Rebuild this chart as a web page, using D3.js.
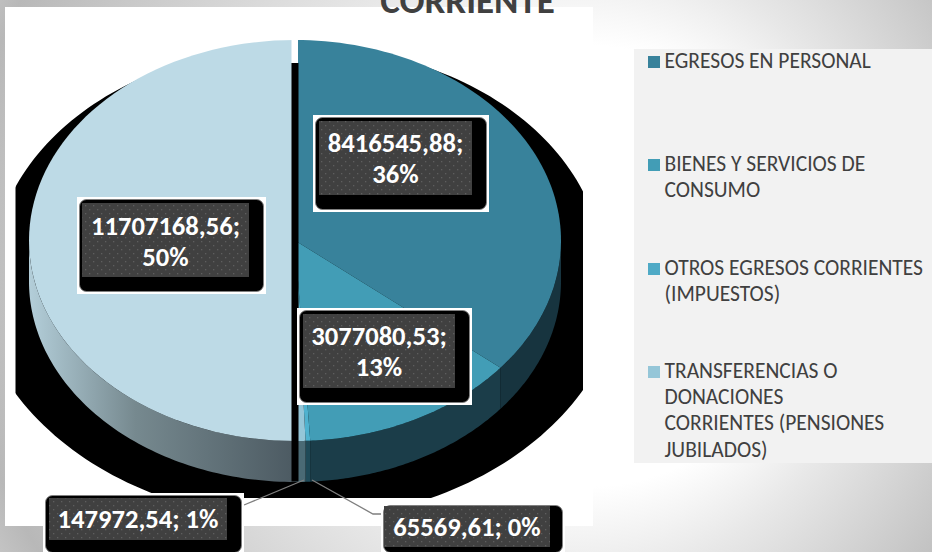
<!DOCTYPE html>
<html><head><meta charset="utf-8">
<script src="https://cdn.jsdelivr.net/npm/d3@7/dist/d3.min.js"></script>
<style>html,body{margin:0;padding:0;background:#fff;overflow:hidden}svg{display:block}</style>
</head><body><svg id="c" width="932" height="552"></svg>
<script>
const values = [8416545.88, 3077080.53, 65569.61, 147972.54, 11707168.56];
const valueLabels = [["8416545,88;","36%"],["3077080,53;","13%"],["65569,61; 0%"],["147972,54; 1%"],["11707168,56;","50%"]];
const sliceColors = ["#38829b","#429db6","#4fb2cf","#95c6d8","#bddae6"];
const sideColors = ["#17343f","#1b3d49","#1f4a58","#4a6a75","#4c5a62"];
const legendLabels = [["EGRESOS EN PERSONAL"],["BIENES Y SERVICIOS DE","CONSUMO"],["OTROS EGRESOS CORRIENTES","(IMPUESTOS)"],["TRANSFERENCIAS O","DONACIONES","CORRIENTES (PENSIONES","JUBILADOS)"]];
const legendColors = ["#38829b","#429db6","#4faac6","#95c6d8"];
const titleText = "CORRIENTE";

const svg = d3.select("#c");
const defs = svg.append("defs");
const font = "Carlito, 'Open Sans', 'Noto Sans', sans-serif";
const bg = defs.append("radialGradient").attr("id","bg").attr("gradientUnits","userSpaceOnUse")
  .attr("cx",500).attr("cy",260).attr("r",580).attr("fx",640).attr("fy",270);
[[0,"#ffffff"],[0.38,"#ffffff"],[0.55,"#e8e8e8"],[0.82,"#c8c8c8"],[0.95,"#b8b8b8"],[1,"#c4c4c4"]]
  .forEach(s=>bg.append("stop").attr("offset",s[0]).attr("stop-color",s[1]));
svg.append("rect").attr("width",932).attr("height",552).attr("fill","url(#bg)");
svg.append("rect").attr("x",5).attr("y",7).attr("width",588).attr("height",519).attr("fill","#fff");
svg.append("rect").attr("x",634).attr("y",49).attr("width",298).attr("height",414).attr("fill","#f2f2f2");
svg.append("text").attr("x",467.5).attr("y",12.5).attr("text-anchor","middle").attr("font-family",font)
  .attr("font-weight",700).attr("font-size",37).attr("fill","#404040").text(titleText);

const ls = defs.append("linearGradient").attr("id","leftSide").attr("gradientUnits","userSpaceOnUse").attr("x1",29).attr("x2",295).attr("y1",0).attr("y2",0);
[[0,"#b3ced9"],[0.4,"#76898f"],[1,"#4c5a62"]].forEach(s=>ls.append("stop").attr("offset",s[0]).attr("stop-color",s[1]));
const dots = defs.append("pattern").attr("id","dots").attr("width",8).attr("height",8).attr("patternUnits","userSpaceOnUse");
dots.append("rect").attr("width",8).attr("height",8).attr("fill","#404040");
dots.append("rect").attr("x",1).attr("y",1).attr("width",1.3).attr("height",1.3).attr("fill","#5e5e5e");
dots.append("rect").attr("x",5).attr("y",5).attr("width",1.3).attr("height",1.3).attr("fill","#5e5e5e");

const cx = 295, cy = 240.5, rx = 266, ry = 200.5, depth = 41;
const pie = d3.pie().sort(null).value(d=>d)(values);
const px = a => cx + rx*Math.sin(a), py = a => cy - ry*Math.cos(a);
const steps = d3.range(0,81).map(i=>i/80);
function topPath(s){
  const g = d3.path(); g.moveTo(cx,cy);
  steps.forEach(t=>{const a=s.startAngle+(s.endAngle-s.startAngle)*t; g.lineTo(px(a),py(a));});
  g.closePath(); return g.toString();
}
function sidePath(a0,a1){
  a0=Math.max(a0,Math.PI/2); a1=Math.min(a1,Math.PI*1.5); if(a1<=a0) return "";
  const g=d3.path();
  steps.forEach((t,i)=>{const a=a0+(a1-a0)*t; i?g.lineTo(px(a),py(a)):g.moveTo(px(a),py(a));});
  steps.slice().reverse().forEach(t=>{const a=a0+(a1-a0)*t; g.lineTo(px(a),py(a)+depth);});
  g.closePath(); return g.toString();
}
// black shadow behind the pie: two half ellipses clipped by a box
defs.append("clipPath").attr("id","shClip").append("rect").attr("x",15.5).attr("y",30).attr("width",567.5).attr("height",468);
const shPath=(()=>{const scx=298,g=d3.path();
  const n=120, topR=[305,226,272], botR=[327,255,265];
  d3.range(0,n+1).forEach(i=>{const a=-Math.PI/2+Math.PI*i/n; const x=scx+topR[0]*Math.sin(a), y=topR[2]-topR[1]*Math.cos(a); i?g.lineTo(x,y):g.moveTo(x,y);});
  d3.range(0,n+1).forEach(i=>{const a=Math.PI/2+Math.PI*i/n; const x=scx+botR[0]*Math.sin(a), y=botR[2]-botR[1]*Math.cos(a); g.lineTo(x,y);});
  g.closePath(); return g.toString();})();
svg.append("path").attr("d",shPath).attr("fill","#000").attr("clip-path","url(#shClip)");

// sides
pie.forEach((s,i)=>{
  const d=sidePath(s.startAngle,s.endAngle);
  if(d) svg.append("path").attr("d",d).attr("fill",i===4?"url(#leftSide)":sideColors[i]);
});
// tops
pie.forEach((s,i)=>svg.append("path").attr("d",topPath(s)).attr("fill",sliceColors[i]));
// gap between the two halves
svg.append("rect").attr("x",291.5).attr("y",63).attr("width",7).attr("height",418.5).attr("fill","#000");
svg.append("rect").attr("x",291.5).attr("y",38).attr("width",6.5).attr("height",25).attr("fill","#fff");

// leader lines
const line=svg.append("g").attr("fill","none").attr("stroke","#7f7f7f").attr("stroke-width",1.3);
line.append("polyline").attr("points","304,480 244,505");
line.append("polyline").attr("points","312,480 373,514 381,514");

function label(x,y,w,h,inX,inY,inW,inH,lines,baselines,size){
  const g=svg.append("g");
  g.append("rect").attr("x",x).attr("y",y).attr("width",w).attr("height",h).attr("fill","#fff");
  g.append("rect").attr("x",x+2.5).attr("y",y+2.5).attr("width",w-5).attr("height",h-5).attr("rx",7).attr("fill","#000").attr("stroke","#808080").attr("stroke-width",0.9);
  g.append("rect").attr("x",inX).attr("y",inY).attr("width",inW).attr("height",inH).attr("fill","url(#dots)");
  lines.forEach((t,i)=>g.append("text").attr("x",inX+inW/2).attr("y",baselines[i]).attr("text-anchor","middle")
    .attr("font-family",font).attr("font-weight",700).attr("font-size",size).attr("fill","#fff").text(t));
}
label(313,115,176,97,319,121,153,74,valueLabels[0],[152,183],26.6);
label(297,308,175,97,303,314,152,74,valueLabels[1],[345,376],26.6);
label(77,197,189,97,82,203,167,74,valueLabels[4],[235,266],26.6);
label(43,493,201,62,49,498,178,42,valueLabels[3],[528],26.6);
label(381,503,184,52,384,506,166,41,valueLabels[2],[536],26.6);

const leg=svg.append("g");
const legY=[68,171,275,378];
legendLabels.forEach((l,i)=>{
  leg.append("rect").attr("x",648).attr("y",legY[i]-12).attr("width",12).attr("height",12).attr("fill",legendColors[i]);
  l.forEach((t,j)=>leg.append("text").attr("x",664.5).attr("y",legY[i]+j*26.2).attr("font-family",font).attr("font-size",21.5).attr("fill","#404040").text(t));
});
</script></body></html>
